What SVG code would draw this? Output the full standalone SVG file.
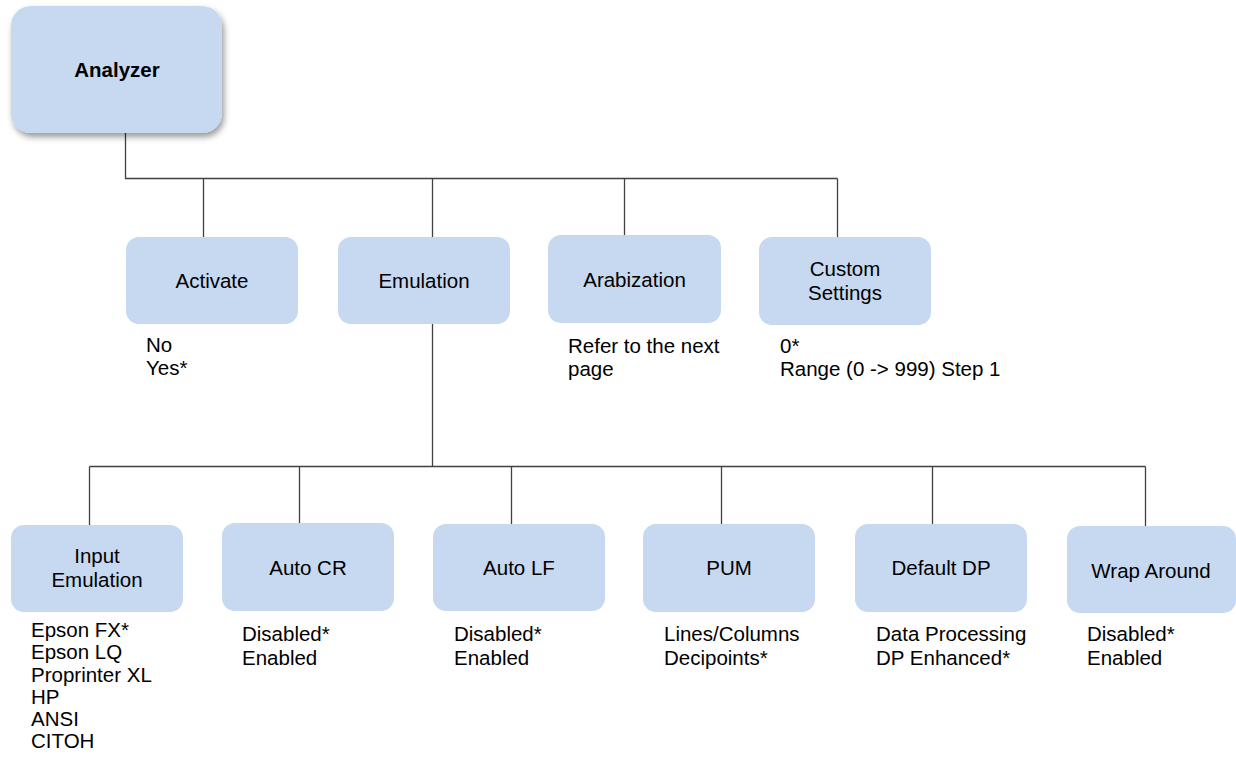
<svg xmlns="http://www.w3.org/2000/svg" width="1236" height="765" viewBox="0 0 1236 765">
<defs>
<style>
.box{fill:#C6D9F0;}
.lbl{font-family:"Liberation Sans",Arial,sans-serif;font-size:20.5px;fill:#000;text-anchor:middle;}
.lst{font-family:"Liberation Sans",Arial,sans-serif;font-size:20.5px;fill:#000;}
.conn{stroke:#404040;stroke-width:1.3;fill:none;}
</style>
<filter id="sh" x="-20%" y="-20%" width="150%" height="150%">
<feDropShadow dx="2" dy="4" stdDeviation="3" flood-color="#000" flood-opacity="0.4"/>
</filter>
</defs>
<rect width="1236" height="765" fill="#fff"/>
<g id="connectors">
<path class="conn" d="M125.5 133V178.5H837.5M203.5 178.5V237M432.5 178.5V237M624.5 178.5V235M837.5 178.5V237"/>
<path class="conn" d="M432.5 324V466.5M89.5 466.5H1145.5M89.5 466.5V525M299.5 466.5V523M511.5 466.5V524M721.5 466.5V524M932.5 466.5V524M1145.5 466.5V526"/>
</g>
<g id="analyzer">
<rect class="box" x="11" y="6" width="211" height="127" rx="20" filter="url(#sh)"/>
<text class="lbl" x="117" y="77" font-weight="bold">Analyzer</text>
</g>
<g id="activate">
<rect class="box" x="126" y="237" width="172" height="87" rx="13"/>
<text class="lbl" x="212" y="288">Activate</text>
<text class="lst" x="146" y="352">No</text>
<text class="lst" x="146" y="375">Yes*</text>
</g>
<g id="emulation">
<rect class="box" x="338" y="237" width="172" height="87" rx="13"/>
<text class="lbl" x="424" y="288">Emulation</text>
</g>
<g id="arabization">
<rect class="box" x="548" y="235" width="173" height="88" rx="13"/>
<text class="lbl" x="634.5" y="287">Arabization</text>
<text class="lst" x="568" y="353">Refer to the next</text>
<text class="lst" x="568" y="376">page</text>
</g>
<g id="custom-settings">
<rect class="box" x="759" y="237" width="172" height="88" rx="13"/>
<text class="lbl" x="845" y="276">Custom</text>
<text class="lbl" x="845" y="300">Settings</text>
<text class="lst" x="780" y="353">0*</text>
<text class="lst" x="780" y="376">Range (0 -&gt; 999) Step 1</text>
</g>
<g id="input-emulation">
<rect class="box" x="11" y="525" width="172" height="87" rx="13"/>
<text class="lbl" x="97" y="563">Input</text>
<text class="lbl" x="97" y="587">Emulation</text>
<text class="lst" x="31" y="637">Epson FX*</text>
<text class="lst" x="31" y="659">Epson LQ</text>
<text class="lst" x="31" y="682">Proprinter XL</text>
<text class="lst" x="31" y="704">HP</text>
<text class="lst" x="31" y="726">ANSI</text>
<text class="lst" x="31" y="748">CITOH</text>
</g>
<g id="auto-cr">
<rect class="box" x="222" y="523" width="172" height="88" rx="13"/>
<text class="lbl" x="308" y="575">Auto CR</text>
<text class="lst" x="242" y="641">Disabled*</text>
<text class="lst" x="242" y="665">Enabled</text>
</g>
<g id="auto-lf">
<rect class="box" x="433" y="524" width="172" height="87" rx="13"/>
<text class="lbl" x="519" y="575">Auto LF</text>
<text class="lst" x="454" y="641">Disabled*</text>
<text class="lst" x="454" y="665">Enabled</text>
</g>
<g id="pum">
<rect class="box" x="643" y="524" width="172" height="88" rx="13"/>
<text class="lbl" x="729" y="575">PUM</text>
<text class="lst" x="664" y="641">Lines/Columns</text>
<text class="lst" x="664" y="665">Decipoints*</text>
</g>
<g id="default-dp">
<rect class="box" x="855" y="524" width="172" height="88" rx="13"/>
<text class="lbl" x="941" y="575">Default DP</text>
<text class="lst" x="876" y="641">Data Processing</text>
<text class="lst" x="876" y="665">DP Enhanced*</text>
</g>
<g id="wrap-around">
<rect class="box" x="1067" y="526" width="169" height="87" rx="13"/>
<text class="lbl" x="1151" y="578">Wrap Around</text>
<text class="lst" x="1087" y="641">Disabled*</text>
<text class="lst" x="1087" y="665">Enabled</text>
</g>
</svg>
